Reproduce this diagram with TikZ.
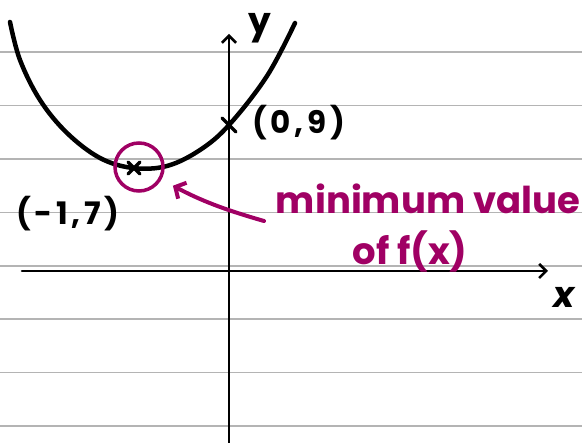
\documentclass[tikz,border=0pt]{standalone}
\usepackage{fontspec}
\setmainfont{Poppins}
\usetikzlibrary{arrows.meta,calc}
\definecolor{mag}{RGB}{160,0,100}
\definecolor{rulegray}{RGB}{180,180,180}
\tikzset{
  ruleline/.style={rulegray, line width=1.4pt},
  axis/.style={black, line width=2.6pt, line cap=round, -{Straight Barb[length=7pt,width=14pt,line width=2.6pt]}},
  curve/.style={black, line width=4.5pt, line cap=round, line join=round},
  lbl/.style={black, font=\fontsize{31}{34}\selectfont\bfseries\addfontfeature{LetterSpace=12}, inner sep=0pt},
  note/.style={mag, font=\fontsize{37}{40}\selectfont\bfseries, inner sep=0pt},
  ring/.style={draw=mag, circle, line width=3.5pt, minimum size=48pt, inner sep=0pt},
  magarrow/.style={mag, line width=4pt, line cap=round, -{Straight Barb[length=8pt,width=18pt,line width=4pt]}},
  xmark/.style={black, line width=3.5pt, line cap=round}
}
\begin{document}
\begin{tikzpicture}[x=1pt,y=-1pt]
\useasboundingbox (0,0) rectangle (582,443);
\fill[white] (0,0) rectangle (582,443);
% ruled lines
\foreach \yy in {52,105.5,159,212.5,266,319,372.5,426}
  \draw[ruleline] (0,\yy) -- (582,\yy);
% axes
\coordinate (ybot) at (229,443);
\coordinate (ytop) at (229,34);
\coordinate (xleft) at (22,271);
\coordinate (xright) at (548,271);
\draw[axis] (ybot) -- (ytop);
\draw[axis] (xleft) -- (xright);
% curve
\draw[curve] plot[smooth, tension=0.6] coordinates {(10,22) (20,60) (40,100) (67,133) (100,158) (133,168) (167,166) (200,150) (229,125) (267,76) (295,23)};
% marks
\coordinate (p0) at (229,125);
\draw[xmark] ($(p0)+(-7,-7)$) -- ($(p0)+(7,7)$);
\coordinate (v) at (134,168);
\draw[xmark] ($(v)+(-6,-6)$) -- ($(v)+(6,6)$);
\draw[xmark] ($(v)+(6,-6)$) -- ($(v)+(-6,6)$);
% ring
\node[ring] (vc) at (139,167) {};
% labels
\node[lbl, anchor=west] (p09) at (252,123) {(0,9)};
\node[lbl, anchor=west] (pm17) at (16,214) {(-1,7)};
\node[lbl, font=\fontsize{36}{38}\selectfont\bfseries] (ylab) at (260,28) {y};
\node[lbl, font=\fontsize{36}{38}\selectfont\bfseries\itshape] (xlab) at (564,297) {x};
% note
\node[note] (n1) at (428,199) {minimum value};
\node[note] (n2) at (410,251) {of f(x)};
\coordinate (astart) at (264,221);
\draw[magarrow, shorten >=13pt] (astart) to[bend left=6] (vc);
\end{tikzpicture}
\end{document}
